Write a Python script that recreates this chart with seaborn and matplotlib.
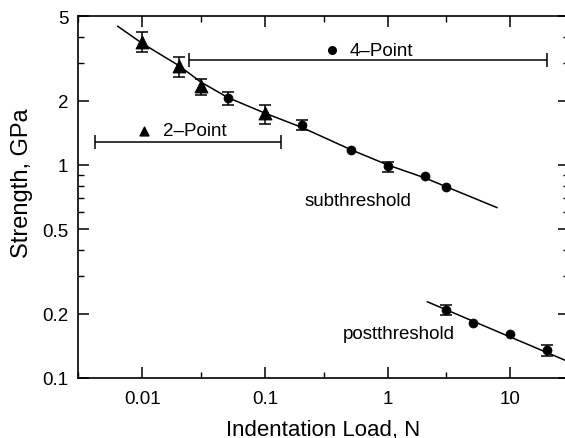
import numpy as np
import pandas as pd
import matplotlib
matplotlib.use("Agg")
import matplotlib.pyplot as plt
import seaborn as sns
from matplotlib.ticker import FixedLocator, NullFormatter

# ---- data ----
tri_load = [0.01, 0.02, 0.03, 0.1]
tri_strength = [3.76, 2.90, 2.35, 1.76]
tri_err_lo = [3.40, 2.60, 2.12, 1.56]
tri_err_hi = [4.20, 3.20, 2.52, 1.92]

sub_load = [0.05, 0.2, 0.5, 1.0, 2.0, 3.0]
sub_strength = [2.07, 1.54, 1.18, 0.99, 0.89, 0.79]
sub_err_lo = [1.92, 1.46, 1.18, 0.93, 0.89, 0.79]
sub_err_hi = [2.20, 1.63, 1.18, 1.03, 0.89, 0.79]

post_load = [3.0, 5.0, 10.0, 20.0]
post_strength = [0.209, 0.182, 0.161, 0.136]
post_err_lo = [0.198, 0.182, 0.161, 0.127]
post_err_hi = [0.221, 0.182, 0.161, 0.143]

subfit_load = [0.0063, 0.01, 0.02, 0.03, 0.05, 0.1, 0.2, 0.5, 1.0, 2.0, 3.0, 7.8]
subfit_strength = [4.48, 3.72, 2.92, 2.45, 2.07, 1.75, 1.50, 1.18, 1.00, 0.87, 0.79, 0.63]

postfit_load = [2.1, 30.0]
postfit_strength = [0.228, 0.119]

range_names = ["4-Point", "2-Point"]
range_lo = [0.024, 0.0041]
range_hi = [20.0, 0.135]
range_level = [3.1, 1.28]

x_ticks = [0.01, 0.1, 1, 10]
x_ticklabels = ["0.01", "0.1", "1", "10"]
y_ticks = [0.1, 0.2, 0.5, 1, 2, 5]
y_ticklabels = ["0.1", "0.2", "0.5", "1", "2", "5"]

# ---- style ----
sns.set_theme(style="ticks")
plt.rcParams["font.family"] = ["Liberation Sans", "DejaVu Sans"]
plt.rcParams["text.color"] = "black"
plt.rcParams["axes.labelcolor"] = "black"

fig = plt.figure(figsize=(5.65, 4.39), dpi=100)
ax = fig.add_axes([78 / 565, 60 / 439, 491 / 565, 362 / 439])
ax.set_xscale("log")
ax.set_yscale("log")
ax.set_xlim(0.003, 30)
ax.set_ylim(0.1, 5)

lw = 1.1
# fit curves
sns.lineplot(x=subfit_load, y=subfit_strength, ax=ax, color="black", lw=lw, sort=False, legend=False)
sns.lineplot(x=postfit_load, y=postfit_strength, ax=ax, color="black", lw=lw, sort=False, legend=False)

# error bars
def errb(xs, ys, lo, hi):
    ys = np.array(ys); lo = np.array(lo); hi = np.array(hi)
    yerr = np.vstack([ys - lo, hi - ys])
    mask = (yerr.sum(axis=0) > 0)
    ax.errorbar(np.array(xs)[mask], ys[mask], yerr=yerr[:, mask], fmt="none",
                ecolor="black", elinewidth=lw, capsize=4, capthick=lw)

errb(tri_load, tri_strength, tri_err_lo, tri_err_hi)
errb(sub_load, sub_strength, sub_err_lo, sub_err_hi)
errb(post_load, post_strength, post_err_lo, post_err_hi)

# markers
sns.scatterplot(x=tri_load, y=tri_strength, ax=ax, marker="^", s=85, color="black",
                edgecolor="black", legend=False, zorder=5)
sns.scatterplot(x=sub_load + post_load, y=sub_strength + post_strength, ax=ax, marker="o",
                s=42, color="black", edgecolor="black", legend=False, zorder=5)

# range bars
for lo, hi, lev in zip(range_lo, range_hi, range_level):
    ax.errorbar([lo], [lev], xerr=[[0], [hi - lo]], fmt="none", ecolor="black",
                elinewidth=lw, capsize=5, capthick=lw)

# range labels
ax.scatter([0.35], [3.45], marker="o", s=30, color="black", zorder=5)
ax.text(0.49, 3.45, "4\u2013Point", ha="left", va="center", fontsize=13.5)
ax.scatter([0.0104], [1.45], marker="^", s=40, color="black", zorder=5)
ax.text(0.0149, 1.45, "2\u2013Point", ha="left", va="center", fontsize=13.5)

ax.text(0.21, 0.68, "subthreshold", ha="left", va="center", fontsize=13.5)
ax.text(0.43, 0.161, "postthreshold", ha="left", va="center", fontsize=13.5)

# ticks
ax.xaxis.set_major_locator(FixedLocator(x_ticks))
ax.set_xticklabels(x_ticklabels)
ax.xaxis.set_minor_locator(FixedLocator([0.003, 0.03, 0.3, 3, 30]))
ax.xaxis.set_minor_formatter(NullFormatter())
ax.yaxis.set_major_locator(FixedLocator(y_ticks))
ax.set_yticklabels(y_ticklabels)
ax.yaxis.set_minor_locator(FixedLocator([0.3, 0.4, 0.6, 0.7, 0.8, 0.9, 3, 4]))
ax.yaxis.set_minor_formatter(NullFormatter())
ax.tick_params(which="both", direction="in", top=True, right=True, color="black",
               labelsize=13.5, labelcolor="black")
ax.tick_params(which="major", length=8, width=1.1)
ax.tick_params(which="minor", length=4.5, width=1.0)
ax.tick_params(axis="x", which="major", pad=9)
ax.tick_params(axis="y", which="major", pad=7)
for sp in ax.spines.values():
    sp.set_visible(True)
    sp.set_linewidth(1.2)
    sp.set_color("black")

ax.set_xlabel("Indentation Load, N", fontsize=16)
ax.set_ylabel("Strength, GPa", fontsize=17)
ax.xaxis.set_label_coords(0.5, -0.112)
ax.yaxis.set_label_coords(-0.092, 0.54)

fig.savefig("out.png", dpi=100, facecolor="white")
